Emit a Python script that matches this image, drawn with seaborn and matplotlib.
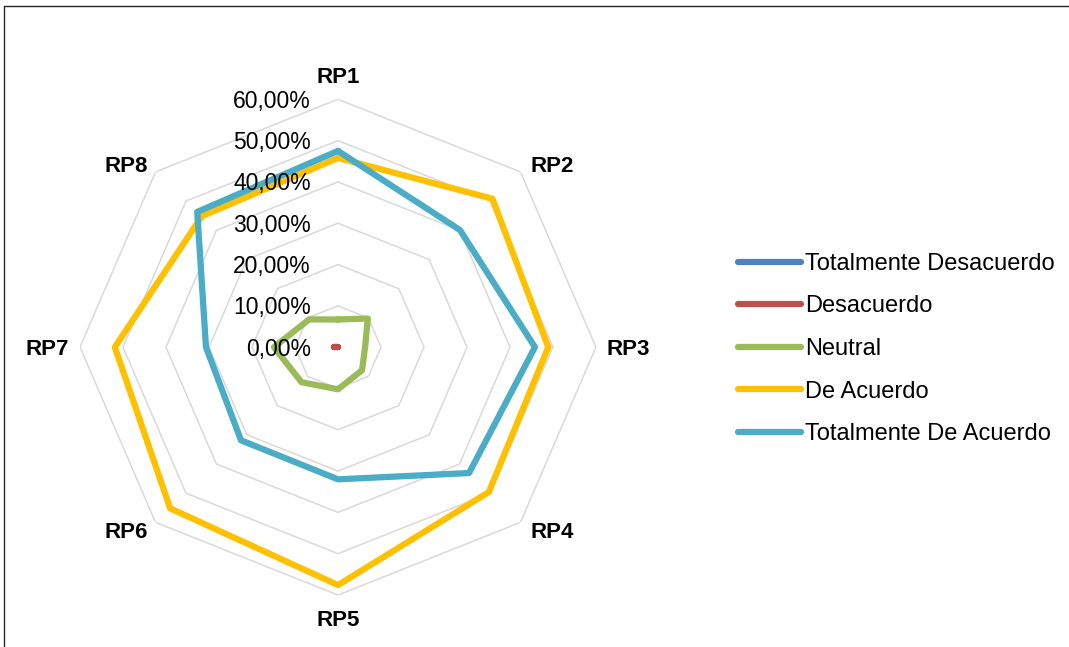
import numpy as np
import pandas as pd
import matplotlib
matplotlib.use("Agg")
import matplotlib.pyplot as plt
import seaborn as sns
from matplotlib.lines import Line2D
from matplotlib.transforms import offset_copy

# ---------------- data ----------------
categories = ["RP1", "RP2", "RP3", "RP4", "RP5", "RP6", "RP7", "RP8"]
series_names = ["Totalmente Desacuerdo", "Desacuerdo", "Neutral",
                "De Acuerdo", "Totalmente De Acuerdo"]
totalmente_desacuerdo = [0.0, 0.0, 0.0, 0.0, 0.0, 0.0, 0.0, 0.0]
desacuerdo = [0.0, 0.0, 0.0, 0.0, 0.0, 0.0, 0.01, 0.0]
neutral = [0.067, 0.098, 0.063, 0.079, 0.102, 0.120, 0.149, 0.095]
de_acuerdo = [0.458, 0.508, 0.489, 0.496, 0.576, 0.552, 0.519, 0.448]
totalmente_de_acuerdo = [0.475, 0.401, 0.458, 0.431, 0.320, 0.319, 0.307, 0.463]
levels = [0.0, 0.1, 0.2, 0.3, 0.4, 0.5, 0.6]
level_labels = ["0,00%", "10,00%", "20,00%", "30,00%", "40,00%", "50,00%", "60,00%"]

colors = ["#4F81BD", "#C0504D", "#9BBB59", "#FFC000", "#4BACC6"]
values = [totalmente_desacuerdo, desacuerdo, neutral, de_acuerdo, totalmente_de_acuerdo]

# ---------------- style ----------------
sns.set_theme(style="white")
plt.rcParams["font.family"] = ["Liberation Sans", "DejaVu Sans"]
plt.rcParams["text.color"] = "black"

W, H = 1069, 647
fig = plt.figure(figsize=(W / 100, H / 100), dpi=100)
fig.patch.set_facecolor("white")

# polar axes box (slightly wider than tall, as in reference)
x0, x1 = 80, 596
y_top, y_bot = 99.3, 595
ax = fig.add_axes([x0 / W, (H - y_bot) / H, (x1 - x0) / W, (y_bot - y_top) / H],
                  projection="polar")
ax.set_theta_zero_location("N")
ax.set_theta_direction(-1)

n = len(categories)
angles = np.arange(n) * 2 * np.pi / n
closed = np.append(angles, 2 * np.pi)

rows = []
for name, vals in zip(series_names, values):
    for a, v in zip(closed, list(vals) + [vals[0]]):
        rows.append({"theta": a, "value": v, "serie": name})
df = pd.DataFrame(rows)

# octagonal gridlines
for lv in levels[1:]:
    ax.plot(closed, [lv] * (n + 1), color="#D9D9D9", lw=1.1, zorder=1)

sns.lineplot(data=df, x="theta", y="value", hue="serie", hue_order=series_names,
             palette=colors, sort=False, estimator=None, lw=4.5, legend=False,
             ax=ax, zorder=3, solid_joinstyle="round", solid_capstyle="round")

ax.set_ylim(0, 0.6)
ax.set_xticks([])
ax.set_yticks([])
ax.grid(False)
for s in ax.spines.values():
    s.set_visible(False)
ax.set_xlabel("")
ax.set_ylabel("")
ax.patch.set_alpha(0)
ax.set_aspect("auto")

# radial value labels
for lv, lab in zip(levels, level_labels):
    tr = offset_copy(ax.transData, fig=fig, x=-27, y=-2, units="dots")
    ax.text(0, lv, lab, transform=tr, ha="right", va="center", fontsize=16.5,
            color="black")

# category labels
offs = [(0, 22, "center"), (10, 5, "left"), (11, -2, "left"), (10, -10, "left"),
        (0, -26, "center"), (-8, -10, "right"), (-11, -2, "right"), (-8, 5, "right")]
for a, cat, (dx, dy, ha) in zip(angles, categories, offs):
    tr = offset_copy(ax.transData, fig=fig, x=dx, y=dy, units="dots")
    ax.text(a, 0.6, cat, transform=tr, ha=ha, va="center", fontsize=16,
            fontweight="bold", color="black")

# legend
handles = [Line2D([0], [0], color=c, lw=4.5, solid_capstyle="round") for c in colors]
fig.legend(handles, series_names, loc="center left",
           bbox_to_anchor=(738 / W, (H - 349) / H), bbox_transform=fig.transFigure,
           frameon=False, fontsize=17, handlelength=2.65, handletextpad=0.2,
           labelspacing=0.87, borderpad=0, borderaxespad=0, labelcolor="black")

# chart border (top and left visible)
fig.add_artist(Line2D([4 / W, 1.0], [(H - 6) / H, (H - 6) / H],
                      transform=fig.transFigure, color="#262626", lw=1.0))
fig.add_artist(Line2D([4 / W, 4 / W], [(H - 6) / H, 0],
                      transform=fig.transFigure, color="#262626", lw=1.0))

fig.savefig("out.png", dpi=100)
